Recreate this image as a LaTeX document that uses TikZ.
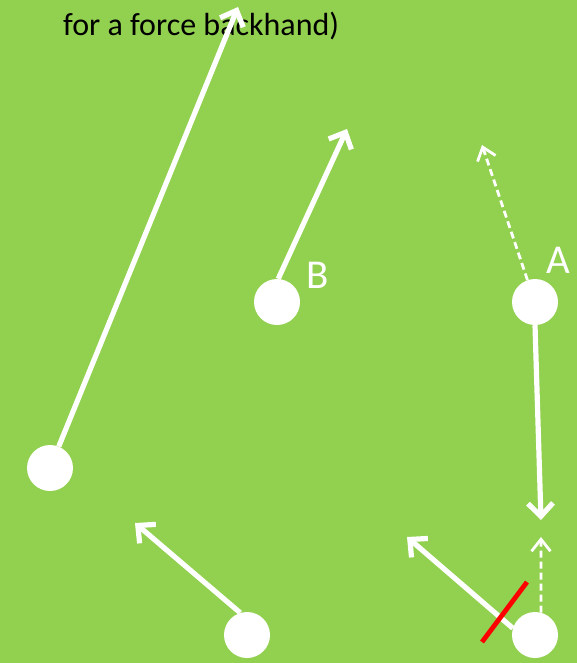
\documentclass[tikz,border=0pt]{standalone}
\usepackage{fontspec}
\setmainfont{Carlito}
\usetikzlibrary{arrows.meta}
\definecolor{field}{HTML}{92D050}
\definecolor{cutred}{HTML}{FF0000}
\begin{document}
\begin{tikzpicture}[x=1pt,y=-1pt,
  player/.style={circle,fill=white,draw=none,minimum size=46pt,inner sep=0pt},
  run/.style={draw=white,line width=5.2pt,-{Straight Barb[length=13pt,width=25pt]}},
  option/.style={draw=white,line width=2.8pt,dash pattern=on 7pt off 4pt,-{Straight Barb[length=12pt,width=19pt,line width=2.8pt]}},
  label/.style={text=white,font=\fontsize{41}{48}\selectfont,inner sep=0pt,anchor=base west},
  note/.style={text=black,font=\fontsize{32}{38}\selectfont,inner sep=0pt,anchor=base west}]
\fill[field] (0,0) rectangle (577,663);
\useasboundingbox (0,0) rectangle (577,663);
% text
\node[note] (txt) at (63,36) {for a force backhand)};
% players
\node[player] (L) at (50,468) {};
\node[player] (B) at (277,302) {};
\node[player] (A) at (535,302) {};
\node[player] (M) at (247,635) {};
\node[player] (R) at (535,635) {};
\node[label] (lb) at (306,288) {B};
\node[label] (la) at (546,273) {A};
% free ends
\coordinate (tL) at (238,7);
\coordinate (tB) at (347,129);
\coordinate (tA1) at (482,145);
\coordinate (tA2) at (541,520);
\coordinate (tM) at (135,523);
\coordinate (tR1) at (541,537);
\coordinate (tR2) at (407,537);
\coordinate (c1) at (482,642);
\coordinate (c2) at (527,582);
% arrows
\draw[run] (L) -- (tL);
\draw[run] (B.87) -- (tB);
\draw[option] (A.109) -- (tA1);
\draw[run] (A.south) -- (tA2);
\draw[run] (M.107) -- (tM);
\draw[run] (R.163) -- (tR2);
\draw[option] (R.75) -- (tR1);
\draw[cutred,line width=4.8pt] (c1) -- (c2);
\end{tikzpicture}
\end{document}
